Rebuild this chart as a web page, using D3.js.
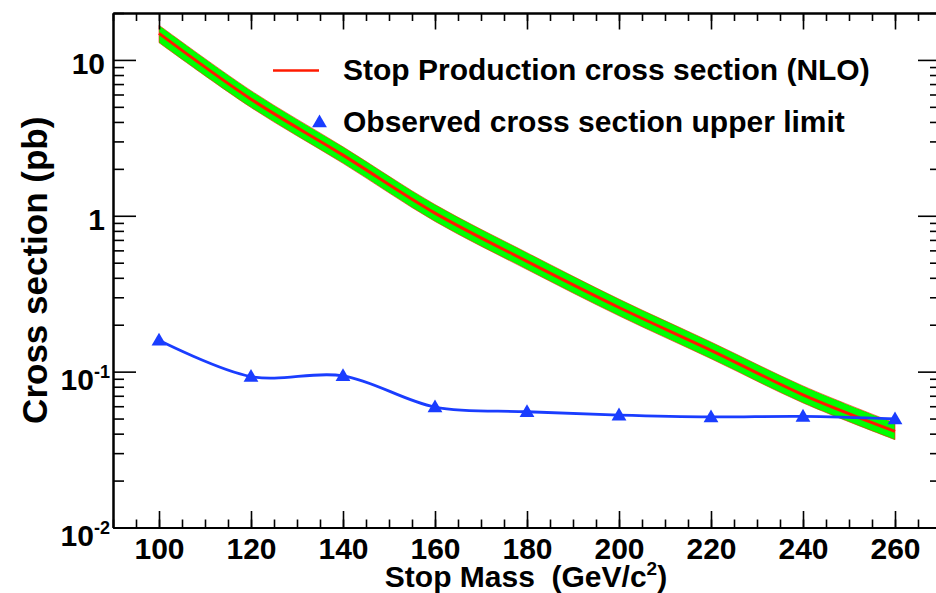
<!DOCTYPE html>
<html>
<head>
<meta charset="utf-8">
<script src="https://cdn.jsdelivr.net/npm/d3@7"></script>
<style>
  body { margin: 0; background: #fff; }
  text { font-family: "Liberation Sans", Arial, Helvetica, sans-serif; font-weight: bold; fill: #000; }
</style>
</head>
<body>
<div id="chart"></div>
<script>
// stop mass points (GeV/c^2)
var masses = [100, 120, 140, 160, 180, 200, 220, 240, 260];
// NLO production cross section (pb) with its uncertainty band
var nloXsec = [14.8, 5.6, 2.45, 1.04, 0.51, 0.258, 0.137, 0.071, 0.0414];
var nloUp   = [16.7, 6.35, 2.77, 1.18, 0.58, 0.292, 0.155, 0.081, 0.0468];
var nloDown = [12.9, 4.95, 2.17, 0.92, 0.452, 0.228, 0.121, 0.063, 0.0366];
// observed upper limit (pb)
var obsLimit = [0.159, 0.093, 0.094, 0.0593, 0.0553, 0.0526, 0.0512, 0.0516, 0.0497];

var xMajor = [100, 120, 140, 160, 180, 200, 220, 240, 260];
var xMinor = d3.range(90, 271, 5);
var yMajor = [0.01, 0.1, 1, 10];
var yLabels = [["10", "-2"], ["10", "-1"], ["1", ""], ["10", ""]];
var legendLabels = ["Stop Production cross section (NLO)", "Observed cross section upper limit"];

var width = 936, height = 593;
var padL = 113, padR = 941, padT = 13, padB = 527.5;

var red = "#ff1a00", green = "#00ff00", blue = "#1a3dff";

var svg = d3.select("#chart").append("svg")
            .attr("width", width)
            .attr("height", height);

var x = d3.scaleLinear().domain([90, 270]).range([padL, padR]);
var y = d3.scaleLog().domain([0.01, 20]).range([padB, padT]);

var yMinor = [];
[0.01, 0.1, 1, 10].forEach(function(d) {
	for (var k = 2; k <= 9; k++) if (d * k <= 20) yMinor.push(d * k);
});

var pts = masses.map(function(m, i) {
	return {m: m, c: nloXsec[i], up: nloUp[i], dn: nloDown[i], obs: obsLimit[i]};
});

// NLO band
var band = d3.area()
             .curve(d3.curveCatmullRom)
             .x(function(d) { return x(d.m); })
             .y0(function(d) { return y(d.dn); })
             .y1(function(d) { return y(d.up); });
svg.append("path")
   .datum(pts)
   .attr("d", band)
   .attr("fill", green)
   .attr("stroke", red)
   .attr("stroke-width", 0.6);

var nloLine = d3.line()
                .curve(d3.curveCatmullRom)
                .x(function(d) { return x(d.m); })
                .y(function(d) { return y(d.c); });
svg.append("path")
   .datum(pts)
   .attr("d", nloLine)
   .attr("fill", "none")
   .attr("stroke", red)
   .attr("stroke-width", 3);

// observed limit
var obsLine = d3.line()
                .curve(d3.curveCatmullRom)
                .x(function(d) { return x(d.m); })
                .y(function(d) { return y(d.obs); });
svg.append("path")
   .datum(pts)
   .attr("d", obsLine)
   .attr("fill", "none")
   .attr("stroke", blue)
   .attr("stroke-width", 2.8);

var tri = d3.symbol().type(d3.symbolTriangle).size(95);
svg.append("g")
   .selectAll("path")
   .data(pts)
   .enter().append("path")
   .attr("d", tri)
   .attr("transform", function(d) { return "translate(" + x(d.m) + "," + (y(d.obs) + 1) + ")"; })
   .attr("fill", blue);

// axes, ticks pointing inward on all four sides
function styleAxis(g, w) {
	g.selectAll("line").attr("stroke", "#000").attr("stroke-width", 1.6);
	g.select(".domain").attr("stroke", "#000").attr("stroke-width", w);
}

svg.append("g").attr("transform", "translate(0," + padB + ")")
   .call(d3.axisBottom(x).tickValues(xMinor).tickSize(-8).tickSizeOuter(0).tickFormat(""))
   .call(styleAxis, 2);
svg.append("g").attr("transform", "translate(0," + padB + ")")
   .call(d3.axisBottom(x).tickValues(xMajor).tickSize(-16.5).tickSizeOuter(0).tickPadding(10).tickFormat(d3.format("d")))
   .call(styleAxis, 2)
   .selectAll("text")
   .style("font-size", "30px");

svg.append("g").attr("transform", "translate(0," + padT + ")")
   .call(d3.axisTop(x).tickValues(xMinor).tickSize(-8).tickSizeOuter(0).tickFormat(""))
   .call(styleAxis, 2);
svg.append("g").attr("transform", "translate(0," + padT + ")")
   .call(d3.axisTop(x).tickValues(xMajor).tickSize(-16.5).tickSizeOuter(0).tickFormat(""))
   .call(styleAxis, 2);

svg.append("g").attr("transform", "translate(" + padL + ",0)")
   .call(d3.axisLeft(y).tickValues(yMinor).tickSize(-11).tickSizeOuter(0).tickFormat(""))
   .call(styleAxis, 2);
svg.append("g").attr("transform", "translate(" + padL + ",0)")
   .call(d3.axisLeft(y).tickValues(yMajor).tickSize(-23).tickSizeOuter(0).tickFormat(""))
   .call(styleAxis, 2);

svg.append("g").attr("transform", "translate(" + padR + ",0)")
   .call(d3.axisRight(y).tickValues(yMinor).tickSize(-11).tickSizeOuter(0).tickFormat(""))
   .call(styleAxis, 2);
svg.append("g").attr("transform", "translate(" + padR + ",0)")
   .call(d3.axisRight(y).tickValues(yMajor).tickSize(-23).tickSizeOuter(0).tickFormat(""))
   .call(styleAxis, 2);

// y tick labels with exponents
var ylab = svg.append("g")
              .selectAll("text")
              .data(yMajor)
              .enter().append("text")
              .attr("text-anchor", "end")
              .attr("x", function(d, i) { return yLabels[i][1] ? 110 : 105; })
              .attr("y", function(d, i) { return y(d) + (yLabels[i][1] ? 18 : 14); })
              .style("font-size", "30px");
ylab.append("tspan").text(function(d, i) { return yLabels[i][0]; });
ylab.append("tspan")
    .attr("dy", -12)
    .style("font-size", "18px")
    .text(function(d, i) { return yLabels[i][1]; });

// axis titles
var xt = svg.append("text")
            .attr("x", (padL + padR) / 2 - 1)
            .attr("y", 587)
            .attr("text-anchor", "middle")
            .style("font-size", "30px")
            .style("white-space", "pre");
xt.append("tspan").text("Stop Mass  (GeV/c");
xt.append("tspan").attr("dy", -12).style("font-size", "19px").text("2");
xt.append("tspan").attr("dy", 12).text(")");

svg.append("text")
   .attr("transform", "translate(47," + ((padT + padB) / 2) + ") rotate(-90)")
   .attr("text-anchor", "middle")
   .style("font-size", "35px")
   .text("Cross section (pb)");

// legend
var leg = svg.append("g");
leg.append("line")
   .attr("x1", 273).attr("x2", 319)
   .attr("y1", 70.5).attr("y2", 70.5)
   .attr("stroke", red)
   .attr("stroke-width", 2.6);
leg.append("path")
   .attr("d", tri)
   .attr("transform", "translate(319.5,123)")
   .attr("fill", blue);
leg.selectAll("text")
   .data(legendLabels)
   .enter().append("text")
   .attr("x", 343)
   .attr("y", function(d, i) { return 80 + i * 52; })
   .style("font-size", "30px")
   .text(function(d) { return d; });
</script>
</body>
</html>
